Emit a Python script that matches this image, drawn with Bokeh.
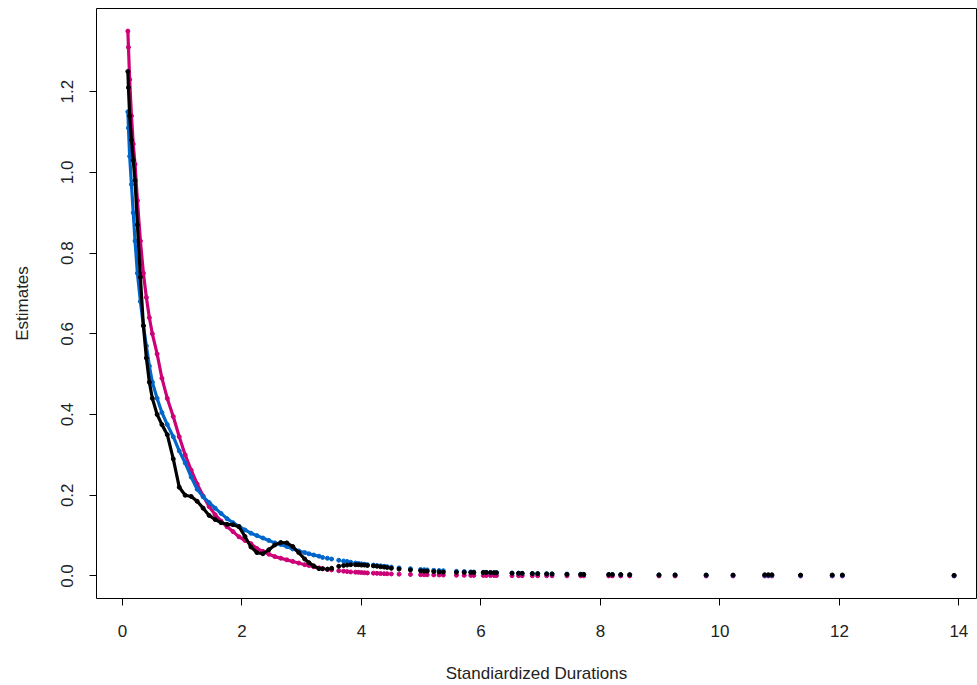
from bokeh.plotting import figure
from bokeh.models import Range1d, FixedTicker
from bokeh.embed import file_html
from bokeh.resources import INLINE

# Standardized durations (dense part, drawn as a continuous trace of points)
x_dense = [0.09, 0.10, 0.12, 0.15, 0.18, 0.21, 0.25, 0.30, 0.35, 0.40, 0.45, 0.50,
           0.58, 0.66, 0.75, 0.85, 0.95, 1.05, 1.15, 1.25, 1.35, 1.45, 1.55, 1.65,
           1.75, 1.85, 1.95, 2.05, 2.15, 2.25, 2.35, 2.45, 2.55, 2.65, 2.75, 2.85,
           2.95, 3.05, 3.12, 3.20, 3.29]
magenta_dense = [1.35, 1.31, 1.23, 1.14, 1.07, 1.02, 0.93, 0.83, 0.75, 0.69, 0.64, 0.60,
                 0.55, 0.49, 0.44, 0.395, 0.345, 0.30, 0.262, 0.228, 0.198, 0.172, 0.152, 0.136,
                 0.122, 0.110, 0.097, 0.088, 0.080, 0.068, 0.061, 0.054, 0.048, 0.044, 0.040, 0.036,
                 0.032, 0.028, 0.026, 0.023, 0.020]
blue_dense = [1.15, 1.11, 1.04, 0.97, 0.90, 0.83, 0.75, 0.68, 0.62, 0.57, 0.52, 0.48,
              0.44, 0.405, 0.375, 0.345, 0.31, 0.28, 0.245, 0.215, 0.196, 0.182, 0.168, 0.155,
              0.142, 0.132, 0.123, 0.114, 0.106, 0.100, 0.094, 0.088, 0.082, 0.078, 0.073, 0.067,
              0.062, 0.058, 0.055, 0.052, 0.049]
black_dense = [1.25, 1.21, 1.14, 1.08, 1.03, 0.98, 0.87, 0.74, 0.62, 0.54, 0.48, 0.44,
               0.40, 0.375, 0.35, 0.29, 0.22, 0.200, 0.197, 0.185, 0.168, 0.150, 0.140, 0.132,
               0.128, 0.127, 0.122, 0.098, 0.072, 0.058, 0.055, 0.065, 0.077, 0.083, 0.082, 0.073,
               0.058, 0.042, 0.033, 0.025, 0.018]

# Standardized durations (sparse tail, isolated points)
x_tail = [3.35, 3.43, 3.50, 3.62, 3.70, 3.76, 3.82, 3.90, 3.95, 4.00, 4.05, 4.10,
          4.20, 4.26, 4.32, 4.38, 4.43, 4.50, 4.63, 4.82, 4.99, 5.05, 5.10, 5.21,
          5.30, 5.37, 5.59, 5.72, 5.83, 5.88, 6.04, 6.09, 6.16, 6.22, 6.26, 6.52,
          6.63, 6.69, 6.86, 6.95, 7.10, 7.19, 7.44, 7.67, 7.72, 8.14, 8.20, 8.34,
          8.49, 8.98, 9.25, 9.77, 10.22, 10.75, 10.81, 10.87, 11.35, 11.88, 12.05, 13.92]
magenta_tail = [0.018, 0.016, 0.015, 0.013, 0.012, 0.011, 0.010, 0.0095, 0.009, 0.0085, 0.008, 0.0075,
                0.007, 0.0065, 0.006, 0.0058, 0.0055, 0.005, 0.0045, 0.0038, 0.0032, 0.003, 0.0029, 0.0026,
                0.0024, 0.0022, 0.0018, 0.0016, 0.0014, 0.0013, 0.0012, 0.0011, 0.001, 0.001, 0.001, 0.0008,
                0.0007, 0.0007, 0.0006, 0.0005, 0.0005, 0.0004, 0.0003, 0.0003, 0.0003, 0.0002, 0.0002, 0.0002,
                0.0002, 0.0001, 0.0001, 0.0001, 0.0001, 0.0, 0.0, 0.0, 0.0, 0.0, 0.0, 0.0]
blue_tail = [0.046, 0.044, 0.042, 0.039, 0.037, 0.036, 0.034, 0.032, 0.031, 0.030, 0.029, 0.028,
             0.027, 0.026, 0.025, 0.024, 0.023, 0.022, 0.020, 0.018, 0.016, 0.0155, 0.015, 0.014,
             0.0135, 0.013, 0.0115, 0.011, 0.010, 0.0098, 0.009, 0.0088, 0.0085, 0.0083, 0.0081, 0.0072,
             0.0068, 0.0066, 0.0061, 0.0058, 0.0054, 0.0052, 0.0047, 0.0043, 0.0042, 0.0036, 0.0035, 0.0033,
             0.0031, 0.0026, 0.0024, 0.0020, 0.0017, 0.0015, 0.0015, 0.0014, 0.0012, 0.0011, 0.0010, 0.0006]
black_tail = [0.018, 0.017, 0.019, 0.024, 0.026, 0.027, 0.028, 0.028, 0.028, 0.027, 0.027, 0.026,
              0.025, 0.024, 0.023, 0.022, 0.021, 0.019, 0.017, 0.015, 0.013, 0.012, 0.012, 0.011,
              0.010, 0.0095, 0.009, 0.009, 0.0088, 0.0088, 0.0088, 0.0088, 0.0085, 0.0082, 0.008, 0.007,
              0.0068, 0.0066, 0.006, 0.0058, 0.0052, 0.005, 0.004, 0.0038, 0.0038, 0.0035, 0.0035, 0.0034,
              0.0032, 0.0025, 0.0025, 0.0022, 0.0022, 0.003, 0.003, 0.003, 0.0022, 0.0024, 0.0024, 0.0015]

x_ticks = [0, 2, 4, 6, 8, 10, 12, 14]
y_ticks = [0.0, 0.2, 0.4, 0.6, 0.8, 1.0, 1.2]
y_tick_labels = {0.0: "0.0", 0.2: "0.2", 0.4: "0.4", 0.6: "0.6", 0.8: "0.8", 1.0: "1.0", 1.2: "1.2"}

MAGENTA = "#CC0077"
BLUE = "#0066CC"
BLACK = "#000000"
FONT = "Liberation Sans"

p = figure(width=977, height=685, output_backend="svg", toolbar_location=None,
           x_range=Range1d(-0.435, 14.295), y_range=Range1d(-0.0558, 1.406),
           min_border_left=96, min_border_right=1, min_border_top=8, min_border_bottom=87)
p.background_fill_color = "white"
p.border_fill_color = "white"
p.outline_line_color = "black"
p.outline_line_width = 1
p.xgrid.visible = False
p.ygrid.visible = False

series = [(magenta_dense, magenta_tail, MAGENTA), (blue_dense, blue_tail, BLUE),
          (black_dense, black_tail, BLACK)]
for dense, tail, col in series:
    p.line(x_dense, dense, line_color=col, line_width=3.2)
    p.scatter(x_dense, dense, size=4, fill_color=col, line_color=col)
    p.scatter(x_tail, tail, size=4, fill_color=col, line_color=col)

for ax in (p.xaxis[0], p.yaxis[0]):
    ax.axis_line_color = None
    ax.major_tick_line_color = "black"
    ax.major_tick_out = 7
    ax.major_tick_in = 0
    ax.minor_tick_line_color = None
    ax.major_label_text_font = FONT
    ax.major_label_text_font_size = "17px"
    ax.major_label_text_color = "#222222"
    ax.axis_label_text_font = FONT
    ax.axis_label_text_font_size = "17px"
    ax.axis_label_text_font_style = "normal"
    ax.axis_label_text_color = "#222222"

p.xaxis[0].ticker = FixedTicker(ticks=x_ticks)
p.xaxis[0].major_label_standoff = 19
p.xaxis[0].axis_label = "Standiardized Durations"
p.xaxis[0].axis_label_standoff = 24

p.yaxis[0].ticker = FixedTicker(ticks=y_ticks)
p.yaxis[0].major_label_overrides = y_tick_labels
p.yaxis[0].major_label_orientation = "vertical"
p.yaxis[0].major_label_standoff = 16
p.yaxis[0].axis_label = "Estimates"
p.yaxis[0].axis_label_standoff = 27

open("out.html", "w").write(file_html(p, INLINE))
